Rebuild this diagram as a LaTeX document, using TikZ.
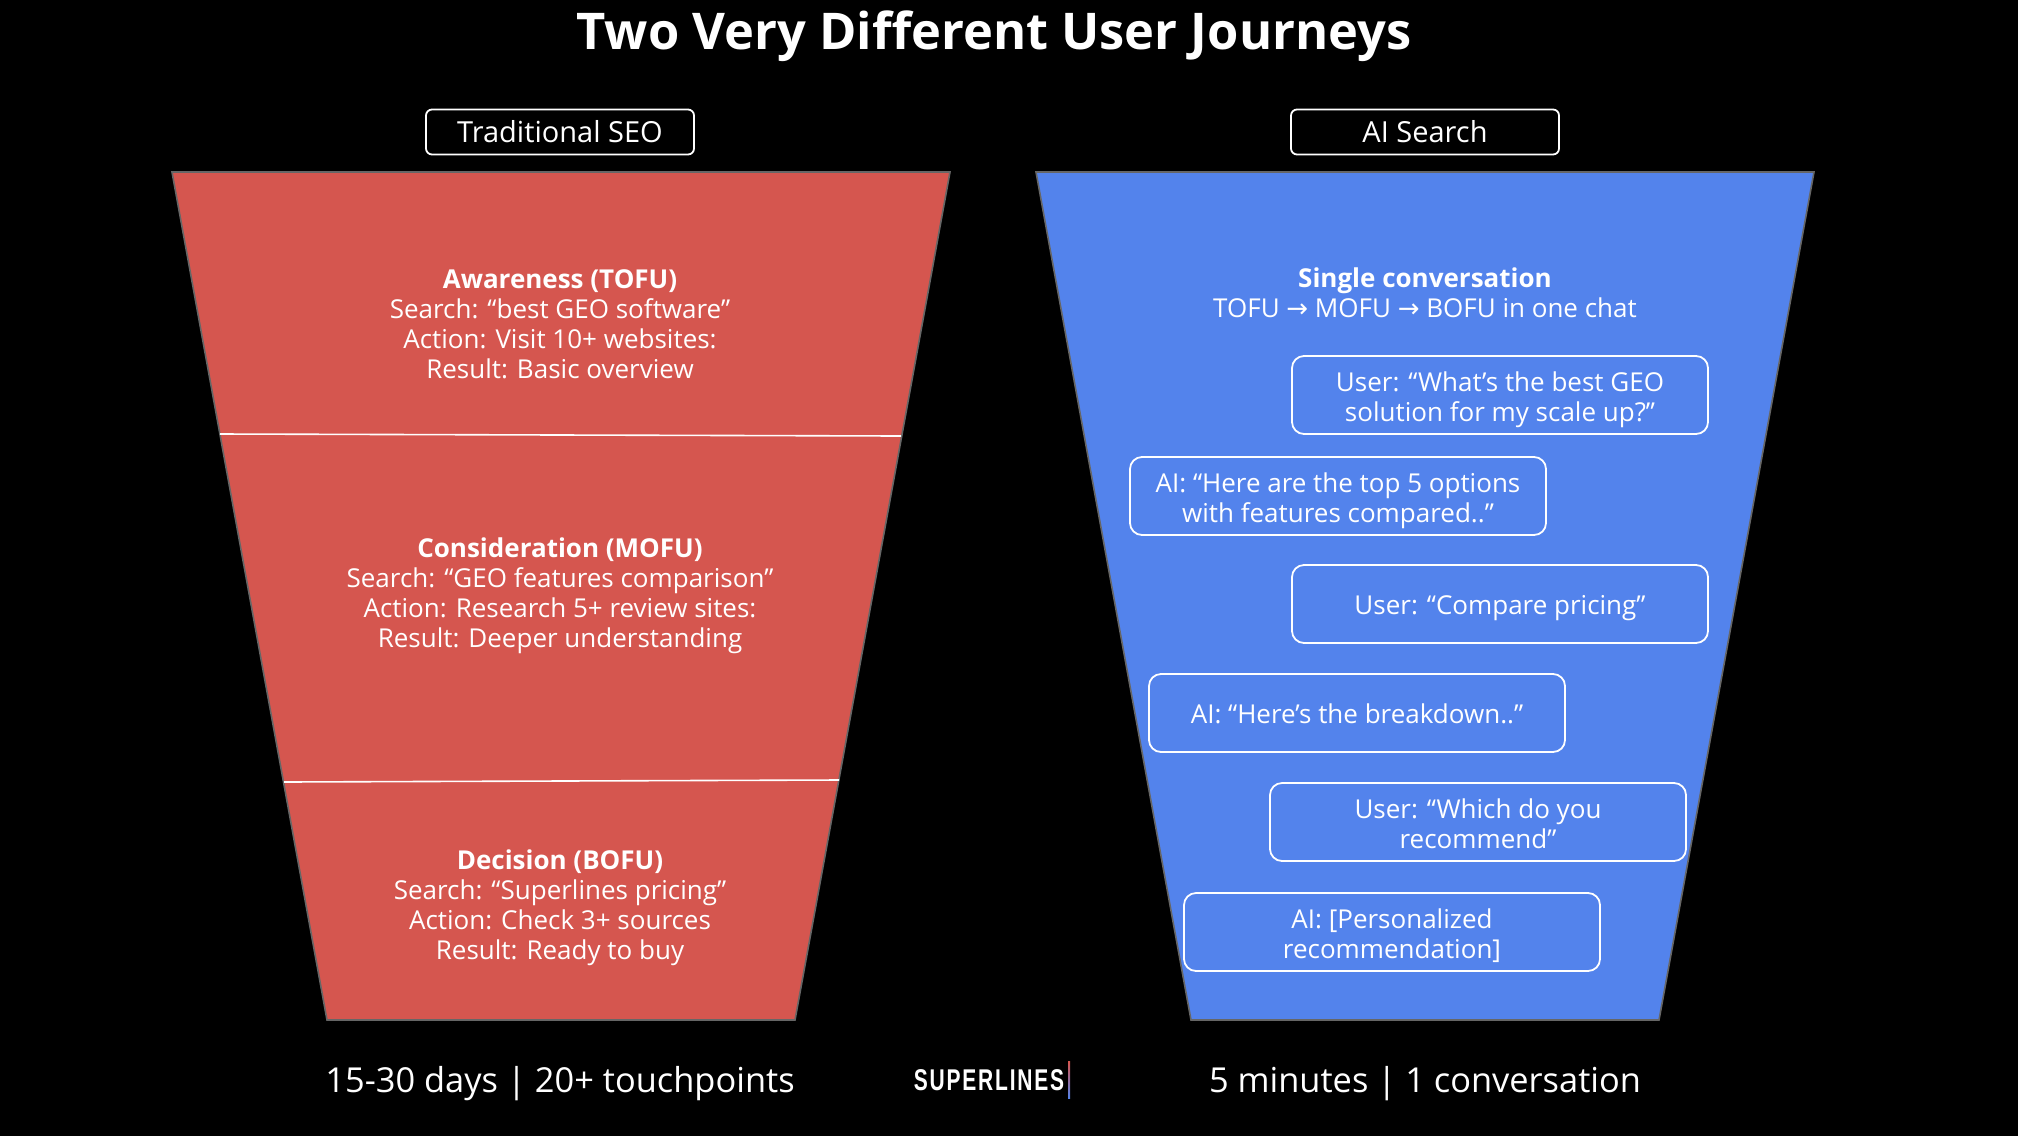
\documentclass[tikz,border=0pt]{standalone}
\usepackage{fontspec}
\usepackage{xcolor}
\usepackage{tikz}
\usetikzlibrary{positioning}
\setmainfont{Open Sans}
\newfontfamily\arrowfont{DejaVu Sans}
\newfontfamily\logofont[FakeStretch=0.7,LetterSpace=6]{Liberation Sans}
\definecolor{seored}{HTML}{D5564F}
\definecolor{aiblue}{HTML}{5383EC}
\definecolor{edgegray}{HTML}{666666}
\tikzset{
  funnel/.style={draw=edgegray, line width=0.8pt},
  divider/.style={draw=white, line width=0.8pt},
  body/.style={text=white, align=center, inner sep=0pt, font=\fontsize{13}{15}\selectfont},
  pill/.style={body, draw=white, line width=0.9pt, rounded corners=3pt, minimum width=134pt, minimum height=22.5pt, font=\fontsize{14.5}{15}\selectfont},
  chat/.style={body, draw=white, line width=0.9pt, rounded corners=6pt, minimum width=208pt, minimum height=39pt, text height=14pt, text depth=3.4pt},
  chattwo/.style={chat, text height=29.5pt},
  footer/.style={body, font=\fontsize{17.2}{20}\selectfont}
}
\begin{document}
\begin{tikzpicture}[x=0.5pt, y=-0.5pt]
\useasboundingbox (0,0) rectangle (2018,1136);
\fill[black] (0,0) rectangle (2018,1136);
\fill[seored, funnel] (172,172) -- (950,172) -- (795,1020) -- (327,1020) -- cycle;
\fill[aiblue, funnel] (1036,172) -- (1814,172) -- (1659,1020) -- (1191,1020) -- cycle;
\coordinate (tofuL) at (220,434);
\coordinate (tofuR) at (901,436);
\coordinate (mofuL) at (284,782);
\coordinate (mofuR) at (839,780);
\draw[divider] (tofuL) -- (tofuR);
\draw[divider] (mofuL) -- (mofuR);
\node[body, font=\fontsize{25.3}{30}\selectfont\bfseries] (title) at (994,36) {Two Very Different User Journeys};
\node[pill] (seo) at (560,132) {Traditional SEO};
\node[pill] (ai) at (1425,132) {AI Search};
\node[body] (tofu) at (560,324) {\textbf{Awareness (TOFU)}\\Search: “best GEO software”\\Action: Visit 10+ websites:\\Result: Basic overview};
\node[body] (mofu) at (560,596) {\textbf{Consideration (MOFU)}\\Search: “GEO features comparison”\\Action: Research 5+ review sites:\\Result: Deeper understanding};
\node[body] (bofu) at (560,908) {\textbf{Decision (BOFU)}\\Search: “Superlines pricing”\\Action: Check 3+ sources\\Result: Ready to buy};
\node[body] (single) at (1425,293) {\textbf{Single conversation}\\TOFU {\arrowfont →} MOFU {\arrowfont →} BOFU in one chat};
\node[chattwo] (user1) at (1500,395) {User: “What’s the best GEO\\solution for my scale up?”};
\node[chattwo] (ai1) at (1338,496) {AI: “Here are the top 5 options\\with features compared..”};
\node[chat] (user2) at (1500,604) {User: “Compare pricing”};
\node[chat] (ai2) at (1357,713) {AI: “Here’s the breakdown..”};
\node[chattwo] (user3) at (1478,822) {User: “Which do you\\recommend”};
\node[chattwo] (ai3) at (1392,932) {AI: [Personalized\\recommendation]};
\node[footer] (seotime) at (560,1084) {15-30 days | 20+ touchpoints};
\node[footer] (aitime) at (1425,1084) {5 minutes | 1 conversation};
\node[body, font=\fontsize{15}{18}\selectfont\logofont\bfseries] (logo) at (989,1080) {SUPERLINES};
\node[inner sep=0pt, minimum width=1pt, minimum height=18.5pt, top color=seored, bottom color=aiblue] (logobar) at (1069,1080) {};
\end{tikzpicture}
\end{document}
